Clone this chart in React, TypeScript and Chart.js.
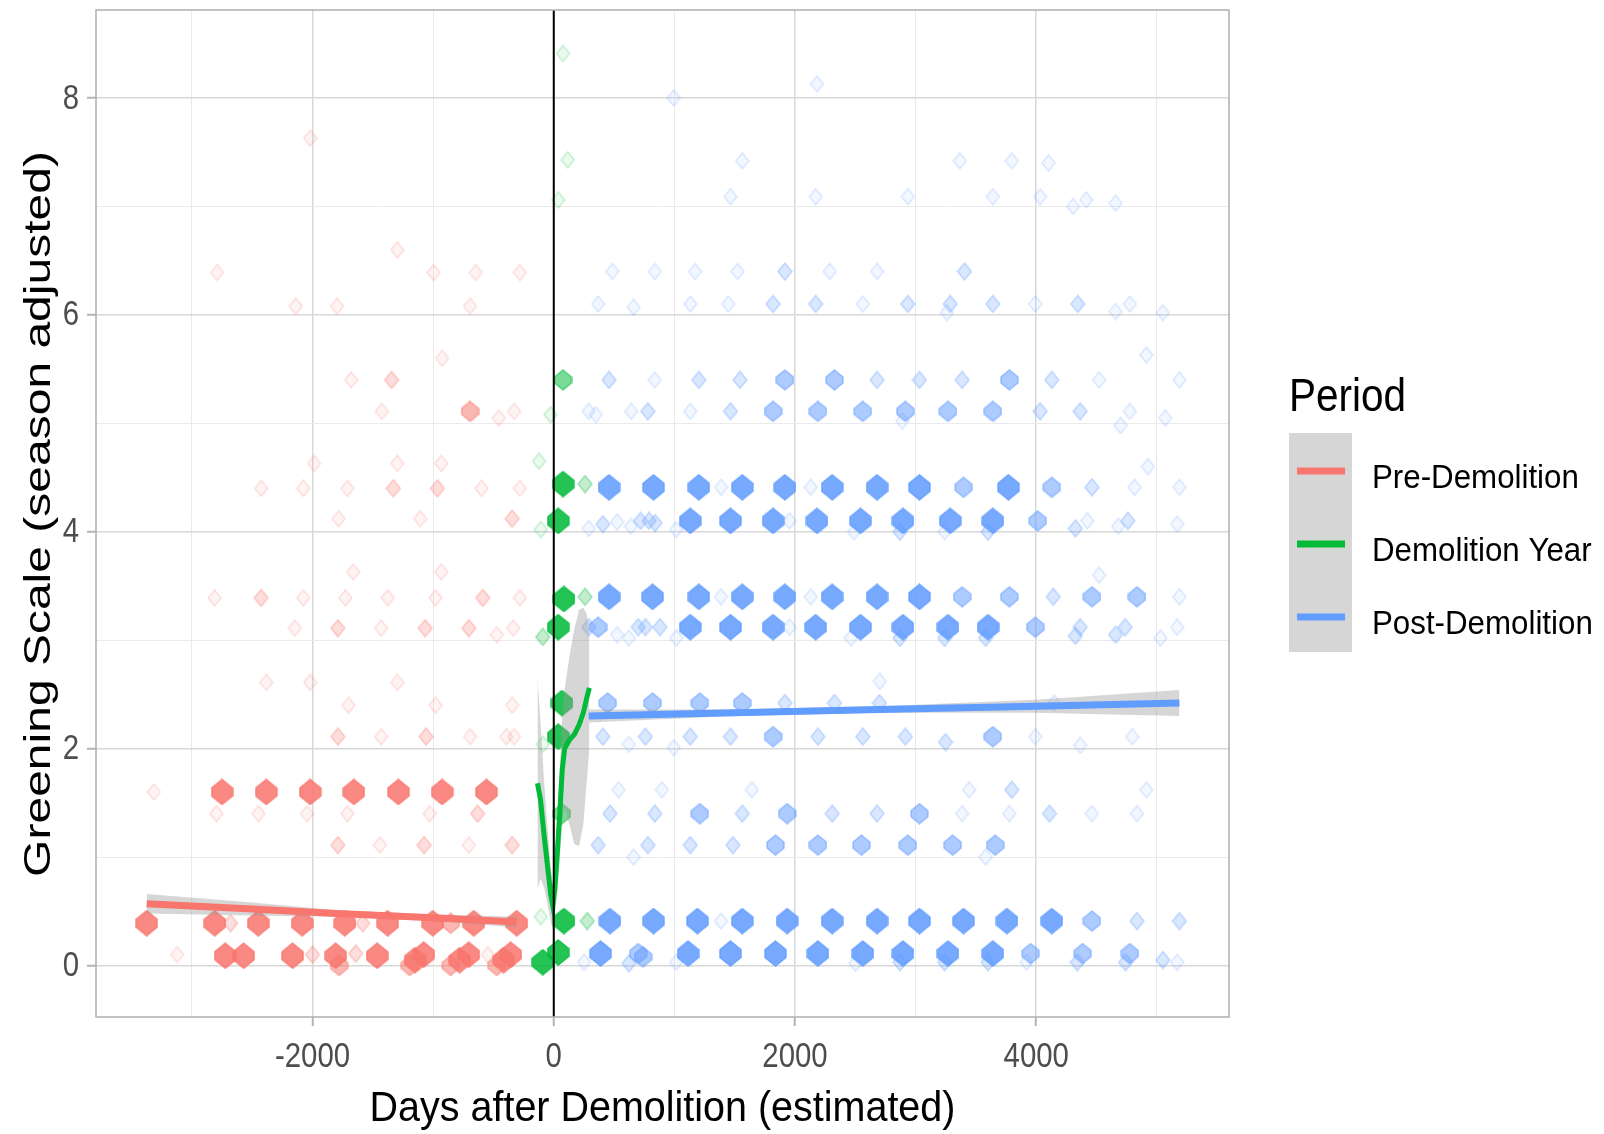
import React, { useEffect, useRef } from "react";
import { Chart, registerables } from "chart.js";

Chart.register(...registerables);

const WIDTH = 1604;
const HEIGHT = 1134;
const FONT = '"Liberation Sans", Arial, sans-serif';

// axis limits and ticks
const X_MIN = -3795;
const X_MAX = 5598;
const Y_MIN = -0.475;
const Y_MAX = 8.811;
const X_GRID = [-3000, -2000, -1000, 0, 1000, 2000, 3000, 4000, 5000];
const X_TICK_LABELS = [-2000, 0, 2000, 4000];
const Y_GRID = [0, 1, 2, 3, 4, 5, 6, 7, 8];
const Y_TICK_LABELS = [0, 2, 4, 6, 8];

const X_TITLE = "Days after Demolition (estimated)";
const Y_TITLE = "Greening Scale (season adjusted)";
const LEGEND_TITLE = "Period";
const PERIODS = ["Pre-Demolition", "Demolition Year", "Post-Demolition"];
const PERIOD_COLORS = ["#F8766D", "#00BA38", "#619CFF"];

// ---- Pre-Demolition observations (x days, y value, overlap level 1..4)
const PRE_X = [
  -3122, -2723, -2571, -2165, -2000, -1808, -1780, -1642, -1464, -1194, -1150, -1078, -854, -780, -705, -547, -473, -415, -357,
  -3375, -2811, -2679, -2450, -2086, -1733, -1584, -1377, -1003, -854, -663, -307,
  -1790, -1441, -1075, -704, -345,
  -2797, -2448, -2045, -1711, -1028, -631,
  -3315, -2750, -2384, -2019, -1657, -1288, -926, -558,
  -1790, -1431, -1059, -694, -393, -329,
  -1701, -980, -345,
  -2384, -2019, -1298,
  -2146, -1790, -1431, -1066, -704, -472, -336,
  -2813, -2426, -2076, -1727, -1377, -980, -589, -281,
  -1663, -932,
  -1784, -1107, -345,
  -2426, -2076, -1711, -1330, -964, -599, -281,
  -1987, -1298, -932,
  -1425, -694, -456, -329,
  -1679, -1345,
  -926,
  -2140, -1797, -694,
  -2791, -996, -647, -281,
  -1298,
  -2019,
];
const PRE_Y = [
  0.10, 0.09, 0.09, 0.09, 0.10, 0.09, 0.00, 0.11, 0.09, 0.00, 0.05, 0.10, 0.00, 0.05, 0.10, 0.10, 0.00, 0.05, 0.10,
  0.39, 0.39, 0.39, 0.39, 0.39, 0.39, 0.39, 0.39, 0.39, 0.39, 0.39, 0.39,
  1.11, 1.11, 1.11, 1.11, 1.11,
  1.40, 1.40, 1.40, 1.40, 1.40, 1.40,
  1.60, 1.60, 1.60, 1.60, 1.60, 1.60, 1.60, 1.60,
  2.11, 2.11, 2.11, 2.11, 2.11, 2.11,
  2.40, 2.40, 2.40,
  2.61, 2.61, 2.61,
  3.11, 3.11, 3.11, 3.11, 3.11, 3.05, 3.11,
  3.39, 3.39, 3.39, 3.39, 3.39, 3.39, 3.39, 3.39,
  3.63, 3.63,
  4.12, 4.12, 4.12,
  4.40, 4.40, 4.40, 4.40, 4.40, 4.40, 4.40,
  4.63, 4.63, 4.63,
  5.11, 5.11, 5.05, 5.11,
  5.40, 5.40,
  5.60,
  6.08, 6.08, 6.08,
  6.39, 6.39, 6.39, 6.39,
  6.60,
  7.63,
];
const PRE_LEVEL = [
  1, 4, 4, 4, 2, 4, 3, 2, 4, 3, 4, 4, 3, 4, 4, 1, 3, 4, 4,
  4, 4, 2, 4, 4, 4, 2, 4, 4, 3, 4, 4,
  2, 1, 2, 1, 2,
  1, 1, 1, 1, 1, 2,
  1, 4, 4, 4, 4, 4, 4, 4,
  2, 1, 2, 1, 1, 1,
  1, 1, 1,
  1, 1, 1,
  1, 2, 1, 2, 2, 1, 1,
  1, 2, 1, 1, 1, 1, 2, 1,
  1, 1,
  1, 1, 2,
  1, 1, 1, 2, 2, 1, 1,
  1, 1, 1,
  1, 3, 1, 1,
  1, 2,
  1,
  1, 1, 1,
  1, 1, 1, 1,
  1,
  1,
];

// ---- Demolition Year observations
const DEM_X = [77, 116, 37, 77, -27, -122, 77, 259, 37, -107, 84, 259, 37, -91, 68, 37, -91, 68, 84, 278, -107, 37, -91];
const DEM_Y = [8.41, 7.43, 7.06, 5.40, 5.08, 4.65, 4.44, 4.44, 4.10, 4.02, 3.38, 3.40, 3.12, 3.03, 2.42, 2.11, 2.04, 1.40, 0.41, 0.41, 0.45, 0.12, 0.03];
const DEM_LEVEL = [1, 1, 1, 3, 1, 1, 4, 2, 4, 1, 4, 2, 4, 2, 4, 4, 1, 3, 4, 2, 1, 4, 4];

// ---- Post-Demolition observations
const POST_X = [
  251, 388, 623, 700, 740, 1015, 1113, 1465, 1838, 2190, 2504, 2562, 2870, 2895, 3240, 3268, 3600, 3640, 3920, 3953, 4340, 4384, 4740, 4776, 5050, 5168,
  466, 827, 1191, 1387, 1563, 1935, 2308, 2680, 3032, 3397, 3757, 4129, 4462, 4835, 5187,
  368, 662, 780, 1132, 1485, 1838, 2190, 2551, 2935, 3307, 3581, 3660,
  466, 838, 1211, 1563, 1935, 2308, 2680, 3032, 3385, 3777, 4110, 4462, 4835,
  537, 897, 1642, 3444, 3797, 4913,
  407, 623, 760, 995, 1132, 1465, 1818, 2190, 2562, 2915, 3248, 3640, 3992, 4364, 4796,
  447, 819, 1211, 1563, 1916, 2327, 2700, 4149,
  2703,
  290, 368, 525, 623, 700, 760, 880, 1015, 1132, 1465, 1818, 1955, 2171, 2464, 2543, 2870, 2895, 3268, 3240, 3601, 3580, 3992, 4325, 4364, 4658, 4737, 5030, 5168,
  458, 819, 1203, 1387, 1563, 1916, 2131, 2308, 2680, 3032, 3385, 3777, 4141, 4462, 4835, 5187,
  4521,
  290, 407, 525, 640, 720, 790, 840, 1015, 1132, 1465, 1818, 1955, 2182, 2490, 2543, 2870, 2895, 3240, 3287, 3600, 3640, 4012, 4325, 4423, 4680, 4760, 5168,
  458, 827, 1203, 1387, 1563, 1916, 2131, 2308, 2680, 3032, 3397, 3769, 4129, 4462, 4815, 5187,
  4926,
  290, 349, 642, 780, 1132, 1465, 1818, 2190, 2562, 2915, 2890, 3268, 3640, 4032, 4364, 4698, 4776, 5070,
  458, 838, 1203, 1543, 1916, 2327, 2680, 3032, 3385, 3777, 4129, 4521, 5187,
  4913,
  368, 662, 1132, 1446, 1818, 2171, 2562, 2935, 3287, 3260, 3640, 3992, 4345, 4658, 4776, 5050,
  486, 838, 1171, 1524, 1916, 2288, 2680, 3405,
  1465, 2171, 2935, 3640, 4032, 4306, 4415, 4658,
  1563, 3366, 3797, 4102,
  995, 2182,
];
const POST_Y = [
  0.03, 0.11, 0.02, 0.11, 0.08, 0.03, 0.11, 0.11, 0.11, 0.11, 0.02, 0.11, 0.03, 0.11, 0.03, 0.11, 0.03, 0.11, 0.03, 0.11, 0.03, 0.11, 0.03, 0.11, 0.05, 0.03,
  0.41, 0.41, 0.41, 0.41, 0.41, 0.41, 0.41, 0.41, 0.41, 0.41, 0.41, 0.41, 0.41, 0.41, 0.41,
  1.11, 1.00, 1.11, 1.11, 1.11, 1.11, 1.11, 1.11, 1.11, 1.11, 1.00, 1.11,
  1.40, 1.40, 1.40, 1.40, 1.40, 1.40, 1.40, 1.40, 1.40, 1.40, 1.40, 1.40, 1.40,
  1.62, 1.62, 1.62, 1.62, 1.62, 1.62,
  2.11, 2.04, 2.11, 2.01, 2.11, 2.11, 2.11, 2.11, 2.11, 2.11, 2.06, 2.11, 2.11, 2.03, 2.11,
  2.42, 2.42, 2.42, 2.42, 2.42, 2.42, 2.42, 2.42,
  2.62,
  3.12, 3.12, 3.05, 3.02, 3.12, 3.12, 3.12, 3.02, 3.12, 3.12, 3.12, 3.12, 3.12, 3.02, 3.12, 3.02, 3.12, 3.12, 3.02, 3.12, 3.02, 3.12, 3.04, 3.12, 3.05, 3.12, 3.02, 3.12,
  3.40, 3.40, 3.40, 3.40, 3.40, 3.40, 3.40, 3.40, 3.40, 3.40, 3.40, 3.40, 3.40, 3.40, 3.40, 3.40,
  3.60,
  4.03, 4.07, 4.09, 4.05, 4.10, 4.10, 4.08, 4.02, 4.10, 4.10, 4.10, 4.10, 4.10, 4.00, 4.10, 4.00, 4.10, 4.00, 4.10, 4.00, 4.10, 4.10, 4.03, 4.10, 4.05, 4.10, 4.07,
  4.41, 4.41, 4.41, 4.41, 4.41, 4.41, 4.41, 4.41, 4.41, 4.41, 4.41, 4.41, 4.41, 4.41, 4.41, 4.41,
  4.60,
  5.11, 5.08, 5.11, 5.11, 5.11, 5.11, 5.11, 5.11, 5.11, 5.11, 5.02, 5.11, 5.11, 5.11, 5.11, 4.98, 5.11, 5.05,
  5.40, 5.40, 5.40, 5.40, 5.40, 5.40, 5.40, 5.40, 5.40, 5.40, 5.40, 5.40, 5.40,
  5.63,
  6.10, 6.07, 6.10, 6.10, 6.10, 6.10, 6.10, 6.10, 6.10, 6.02, 6.10, 6.10, 6.10, 6.03, 6.10, 6.02,
  6.40, 6.40, 6.40, 6.40, 6.40, 6.40, 6.40, 6.40,
  7.09, 7.09, 7.09, 7.09, 7.09, 7.00, 7.06, 7.03,
  7.42, 7.42, 7.42, 7.40,
  8.00, 8.13,
];
const POST_LEVEL = [
  1, 4, 2, 3, 3, 1, 4, 4, 4, 4, 1, 4, 2, 4, 2, 4, 2, 4, 1, 3, 2, 3, 2, 3, 2, 1,
  4, 4, 4, 1, 4, 4, 4, 4, 4, 4, 4, 4, 3, 2, 2,
  2, 1, 2, 2, 2, 3, 3, 3, 3, 3, 1, 3,
  2, 2, 3, 2, 3, 2, 2, 3, 1, 1, 2, 1, 1,
  1, 1, 1, 1, 2, 1,
  2, 1, 2, 1, 2, 2, 3, 2, 2, 2, 2, 3, 1, 1, 1,
  3, 3, 3, 3, 2, 2, 2, 1,
  1,
  2, 3, 1, 1, 2, 2, 2, 1, 4, 4, 4, 1, 4, 1, 4, 2, 4, 4, 2, 4, 2, 3, 2, 2, 2, 2, 1, 1,
  4, 4, 4, 1, 4, 4, 1, 4, 4, 4, 3, 3, 2, 3, 3, 1,
  1,
  1, 2, 1, 1, 2, 2, 2, 1, 4, 4, 4, 1, 4, 1, 4, 2, 4, 1, 4, 2, 4, 3, 2, 1, 1, 2, 1,
  4, 4, 4, 1, 4, 4, 1, 4, 4, 4, 3, 4, 3, 2, 1, 1,
  1,
  1, 1, 1, 2, 1, 2, 3, 3, 3, 3, 1, 3, 3, 2, 2, 1, 1, 1,
  2, 1, 2, 2, 3, 3, 2, 2, 2, 3, 2, 1, 1,
  1,
  1, 1, 1, 1, 2, 2, 1, 2, 2, 1, 2, 1, 2, 1, 1, 1,
  1, 1, 1, 1, 2, 1, 1, 2,
  1, 1, 1, 1, 1, 1, 1, 1,
  1, 1, 1, 1,
  1, 1,
];

// ---- fitted trends with confidence ribbons
const PRE_FIT_X = [-3375, -2500, -1800, -1000, -307];
const PRE_FIT_Y = [0.57, 0.52, 0.48, 0.44, 0.40];
const PRE_FIT_LO = [0.48, 0.46, 0.45, 0.41, 0.35];
const PRE_FIT_HI = [0.66, 0.58, 0.51, 0.47, 0.45];

const DEM_FIT_X = [-135, -110, -80, -50, -25, -8, 10, 30, 50, 70, 90, 130, 170, 210, 245, 270, 295];
const DEM_FIT_Y = [1.68, 1.53, 1.2, 0.9, 0.65, 0.55, 0.72, 1.05, 1.4, 1.8, 2.0, 2.08, 2.13, 2.22, 2.33, 2.45, 2.56];
const DEM_FIT_LO = [0.7, 0.8, 0.72, 0.55, 0.4, 0.33, 0.45, 0.7, 1.0, 1.3, 1.45, 1.3, 1.12, 1.1, 1.3, 1.65, 2.0];
const DEM_FIT_HI = [2.65, 2.25, 1.7, 1.25, 0.9, 0.77, 1.0, 1.4, 1.8, 2.3, 2.55, 2.85, 3.1, 3.28, 3.3, 3.25, 3.12];

const POST_FIT_X = [290, 1500, 2700, 4000, 5187];
const POST_FIT_Y = [2.3, 2.33, 2.36, 2.39, 2.42];
const POST_FIT_LO = [2.24, 2.3, 2.33, 2.33, 2.3];
const POST_FIT_HI = [2.36, 2.36, 2.39, 2.45, 2.54];

const DEMOLITION_DAY = [0, 0];
const DEMOLITION_SPAN = [Y_MIN, Y_MAX];

// ---- marker styling by overlap level
const LEVEL_FILL = [0, 0.08, 0.24, 0.52, 0.86];
const LEVEL_STROKE = [0, 0.22, 0.34, 0.56, 0.86];
const LEVEL_W = [0, 15, 16, 19, 23];
const LEVEL_H = [0, 18, 19, 22, 27];
const LEVEL_FLAT = [0, 0, 0, 3, 4];
const RIBBON = "rgba(153,153,153,0.4)";

function hexToRgb(hex: string) {
  const v = parseInt(hex.slice(1), 16);
  return [(v >> 16) & 255, (v >> 8) & 255, v & 255];
}

function makeMarker(hex: string, level: number) {
  const w = LEVEL_W[level];
  const h = LEVEL_H[level];
  const d = LEVEL_FLAT[level];
  const c = document.createElement("canvas");
  c.width = w;
  c.height = h;
  const g = c.getContext("2d")!;
  const [r, gg, b] = hexToRgb(hex);
  g.beginPath();
  g.moveTo(w / 2, 1);
  g.lineTo(w - 1, h / 2 - d);
  g.lineTo(w - 1, h / 2 + d);
  g.lineTo(w / 2, h - 1);
  g.lineTo(1, h / 2 + d);
  g.lineTo(1, h / 2 - d);
  g.closePath();
  g.fillStyle = `rgba(${r},${gg},${b},${LEVEL_FILL[level]})`;
  g.fill();
  g.lineWidth = 1.5;
  g.strokeStyle = `rgba(${r},${gg},${b},${LEVEL_STROKE[level]})`;
  g.stroke();
  return c;
}

function pts(xs: number[], ys: number[]) {
  return xs.map((x, i) => ({ x, y: ys[i] }));
}

// text drawn with a horizontal squeeze (condensed look of the original)
function squeezedText(ctx: any, text: string, x: number, y: number, size: number, sx: number, align: string, baseline: string, color: string) {
  ctx.save();
  ctx.translate(x, y);
  ctx.scale(sx, 1);
  ctx.font = `${size}px ${FONT}`;
  ctx.textAlign = align;
  ctx.textBaseline = baseline;
  ctx.fillStyle = color;
  ctx.fillText(text, 0, 0);
  ctx.restore();
}

const decorPlugin = {
  id: "decor",
  afterDatasetsDraw(chart: any) {
    const { ctx, chartArea: a } = chart;
    ctx.save();
    ctx.strokeStyle = "#b3b3b3";
    ctx.lineWidth = 1.6;
    ctx.strokeRect(a.left, a.top, a.right - a.left, a.bottom - a.top);
    ctx.restore();
  },
  afterDraw(chart: any) {
    const { ctx, chartArea: a, scales } = chart;
    // tick labels
    X_TICK_LABELS.forEach((v) => {
      squeezedText(ctx, String(v), scales.x.getPixelForValue(v), 1057, 35, 0.84, "center", "middle", "#4d4d4d");
    });
    Y_TICK_LABELS.forEach((v) => {
      squeezedText(ctx, String(v), 79, scales.y.getPixelForValue(v) + 1, 35, 0.84, "right", "middle", "#4d4d4d");
    });
    // x title
    squeezedText(ctx, X_TITLE, (a.left + a.right) / 2, 1121, 42, 0.94, "center", "alphabetic", "#000");
    // y title
    ctx.save();
    ctx.translate(50, 514);
    ctx.rotate(-Math.PI / 2);
    ctx.scale(1, 0.76);
    ctx.font = `48px ${FONT}`;
    ctx.textAlign = "center";
    ctx.textBaseline = "alphabetic";
    ctx.fillStyle = "#000";
    ctx.fillText(Y_TITLE, 0, 0);
    ctx.restore();
    // legend
    squeezedText(ctx, LEGEND_TITLE, 1289, 411, 46, 0.88, "left", "alphabetic", "#000");
    ctx.save();
    ctx.fillStyle = "#d6d6d6";
    ctx.fillRect(1289, 433, 63, 219);
    ctx.restore();
    const keyY = [471, 544, 617];
    PERIODS.forEach((p, i) => {
      ctx.save();
      ctx.strokeStyle = PERIOD_COLORS[i];
      ctx.lineWidth = 7;
      ctx.beginPath();
      ctx.moveTo(1297, keyY[i]);
      ctx.lineTo(1345, keyY[i]);
      ctx.stroke();
      ctx.restore();
      squeezedText(ctx, p, 1372, keyY[i] + 17, 34, 0.92, "left", "alphabetic", "#000");
    });
  },
};

export default function App() {
  const ref = useRef<HTMLCanvasElement>(null);

  useEffect(() => {
    const markers = PERIOD_COLORS.map((c) => [null, 1, 2, 3, 4].map((l) => (l ? makeMarker(c, l as number) : null)));
    const levelStyle = (series: number, levels: number[]) => (ctx: any) =>
      ctx.dataIndex === undefined ? "circle" : markers[series][levels[ctx.dataIndex]];

    const ribbon = (xs: number[], lo: number[], hi: number[]) => [
      { data: pts(xs, hi), borderColor: "rgba(0,0,0,0)", borderWidth: 0, pointRadius: 0, fill: false, order: 20 },
      { data: pts(xs, lo), borderColor: "rgba(0,0,0,0)", borderWidth: 0, pointRadius: 0, fill: "-1", backgroundColor: RIBBON, order: 20 },
    ];
    const scatter = (i: number, xs: number[], ys: number[], lv: number[]) => ({
      label: PERIODS[i],
      data: pts(xs, ys),
      showLine: false,
      pointStyle: levelStyle(i, lv),
      pointRadius: 9,
      pointHoverRadius: 9,
      order: 30,
    });
    const fit = (i: number, xs: number[], ys: number[], w: number) => ({
      data: pts(xs, ys),
      borderColor: PERIOD_COLORS[i],
      borderWidth: w,
      pointRadius: 0,
      fill: false,
      tension: 0,
      order: 10,
    });

    const datasets: any[] = [
      ...ribbon(PRE_FIT_X, PRE_FIT_LO, PRE_FIT_HI),
      ...ribbon(DEM_FIT_X, DEM_FIT_LO, DEM_FIT_HI),
      ...ribbon(POST_FIT_X, POST_FIT_LO, POST_FIT_HI),
      scatter(0, PRE_X, PRE_Y, PRE_LEVEL),
      scatter(1, DEM_X, DEM_Y, DEM_LEVEL),
      scatter(2, POST_X, POST_Y, POST_LEVEL),
      fit(0, PRE_FIT_X, PRE_FIT_Y, 7),
      fit(1, DEM_FIT_X, DEM_FIT_Y, 5),
      fit(2, POST_FIT_X, POST_FIT_Y, 7),
      { data: pts(DEMOLITION_DAY, DEMOLITION_SPAN), borderColor: "#000", borderWidth: 2, pointRadius: 0, fill: false, order: 0 },
    ];

    const majorX = (v: number) => X_TICK_LABELS.includes(v);
    const majorY = (v: number) => Y_TICK_LABELS.includes(v);

    const chart = new Chart(ref.current!, {
      type: "line",
      data: { datasets },
      plugins: [decorPlugin],
      options: {
        responsive: false,
        animation: false,
        devicePixelRatio: 1,
        layout: { padding: { left: 0, top: 6, right: WIDTH - 1229, bottom: 0 } },
        plugins: { legend: { display: false }, tooltip: { enabled: false } },
        scales: {
          x: {
            type: "linear",
            min: X_MIN,
            max: X_MAX,
            afterBuildTicks: (s: any) => {
              s.ticks = X_GRID.map((v) => ({ value: v }));
            },
            afterFit: (s: any) => {
              s.height = HEIGHT - 1017;
              s.paddingLeft = 0;
              s.paddingRight = 0;
            },
            border: { display: false },
            grid: {
              color: (c: any) => (majorX(c.tick?.value) ? "#d8d8d8" : "#eaeaea"),
              lineWidth: (c: any) => (majorX(c.tick?.value) ? 1.5 : 1),
              tickColor: (c: any) => (majorX(c.tick?.value) ? "#b3b3b3" : "rgba(0,0,0,0)"),
              tickLength: 9,
              tickWidth: 2,
            },
            ticks: { display: false, autoSkip: false, maxRotation: 0 },
          },
          y: {
            type: "linear",
            min: Y_MIN,
            max: Y_MAX,
            afterBuildTicks: (s: any) => {
              s.ticks = Y_GRID.map((v) => ({ value: v }));
            },
            afterFit: (s: any) => {
              s.width = 96;
              s.paddingTop = 0;
              s.paddingBottom = 0;
            },
            border: { display: false },
            grid: {
              color: (c: any) => (majorY(c.tick?.value) ? "#d8d8d8" : "#eaeaea"),
              lineWidth: (c: any) => (majorY(c.tick?.value) ? 1.5 : 1),
              tickColor: (c: any) => (majorY(c.tick?.value) ? "#b3b3b3" : "rgba(0,0,0,0)"),
              tickLength: 9,
              tickWidth: 2,
            },
            ticks: { display: false, autoSkip: false },
          },
        },
      } as any,
    });
    return () => chart.destroy();
  }, []);

  return (
    <div style={{ position: "fixed", left: 0, top: 0, width: WIDTH, height: HEIGHT, background: "#fff" }}>
      <canvas ref={ref} width={WIDTH} height={HEIGHT} style={{ display: "block", width: WIDTH, height: HEIGHT }} />
    </div>
  );
}
